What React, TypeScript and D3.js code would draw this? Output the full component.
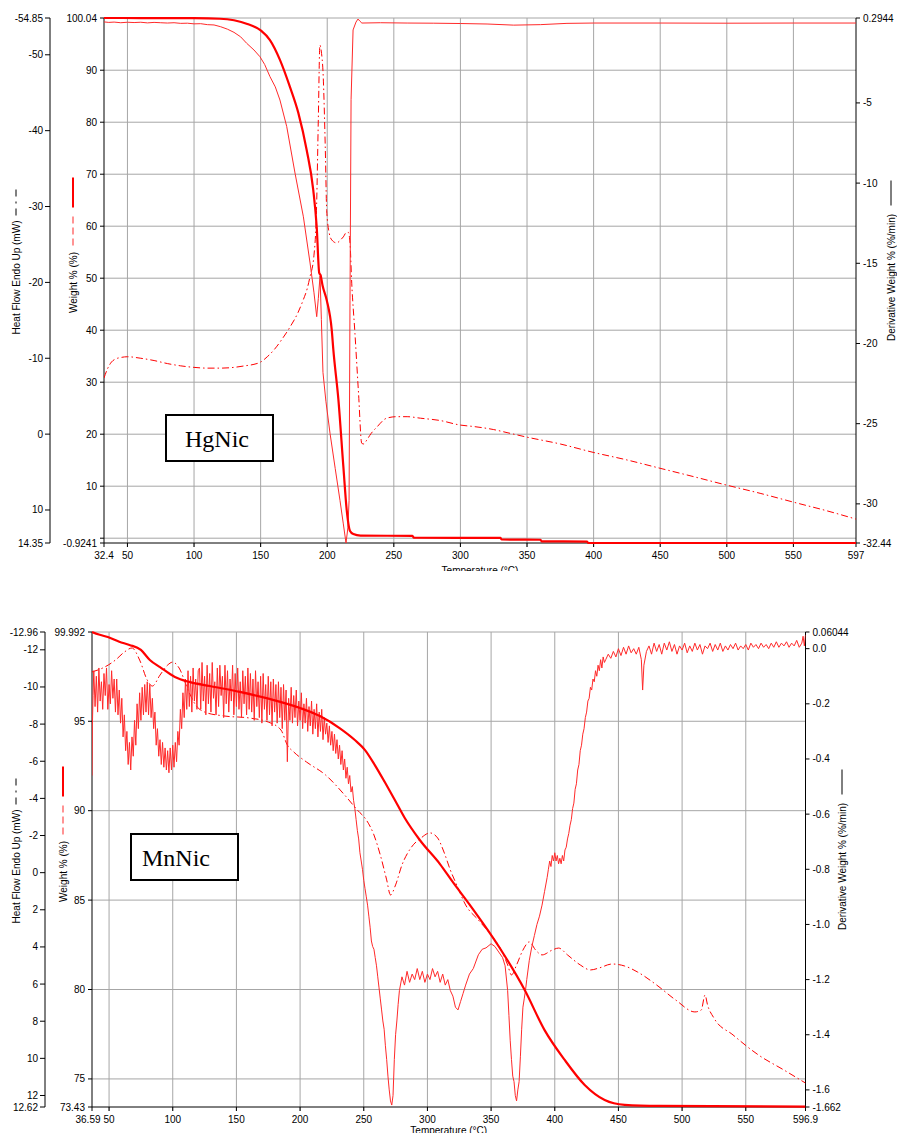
import React from 'react';
import * as d3 from 'd3';

type Pt = [number, number];

// ================= HgNic (top chart) =================
const hgTempTicks = [32.4, 50, 100, 150, 200, 250, 300, 350, 400, 450, 500, 550, 597];
const hgTempLabels = ['32.4', '50', '100', '150', '200', '250', '300', '350', '400', '450', '500', '550', '597'];
const hgHeatTicks = [-54.85, -50, -40, -30, -20, -10, 0, 10, 14.35];
const hgHeatLabels = ['-54.85', '-50', '-40', '-30', '-20', '-10', '0', '10', '14.35'];
const hgWeightTicks = [100.04, 90, 80, 70, 60, 50, 40, 30, 20, 10, 0, -0.9241];
const hgWeightLabels = ['100.04', '90', '80', '70', '60', '50', '40', '30', '20', '10', '', '-0.9241'];
const hgDerivTicks = [0.2944, -5, -10, -15, -20, -25, -30, -32.44];
const hgDerivLabels = ['0.2944', '-5', '-10', '-15', '-20', '-25', '-30', '-32.44'];

const hgWeight: Pt[] = [
  [32.4, 100.04], [60, 100.03], [100, 100.0], [119.5, 99.9], [130, 99.6], [140, 98.9], [150.3, 97.6],
  [157, 95.8], [164.5, 92.0], [172, 86.8], [178.3, 81.8], [184.6, 74.6], [189.5, 67.0], [192.1, 59.9],
  [194, 51.0], [195, 50.6], [196.5, 48.6], [199.6, 45.8], [203.4, 40.0], [204.6, 36.2], [208.4, 26.6],
  [212.1, 13.8], [214.6, 5.5], [217.1, 1.4], [219.6, 0.8], [225, 0.5], [264, 0.45], [265, 0.1],
  [330, 0.05], [331, -0.25], [360, -0.3], [361, -0.6], [395, -0.65], [396, -0.92], [597, -0.92],
];

const hgHeat: Pt[] = [
  [32.4, -7.4], [35, -8.6], [38, -9.5], [41, -9.9], [45, -10.1], [50, -10.2], [60, -10.0], [70, -9.7],
  [80, -9.3], [90, -9.0], [100, -8.8], [110, -8.7], [120, -8.7], [130, -8.8], [138, -9.0], [145, -9.2],
  [150, -9.5], [155, -10.2], [160, -11.1], [166, -12.5], [172, -14.1], [178, -16.0], [182, -17.7],
  [185, -19.2], [187, -20.7], [190, -23.5], [192, -30], [193.3, -41.4], [194.5, -51.3], [195.5, -50.5],
  [197, -47.1], [198.5, -38], [199.6, -29.5], [201.5, -26.5], [203.4, -25.6], [207.1, -25.2], [210, -25.6],
  [212.1, -26.0], [214.5, -26.6], [215.8, -26.6], [217.1, -25.2], [218.4, -19.9], [220.8, -13.3],
  [223.5, -5.4], [225.9, 1.2], [227.5, 1.3], [229.6, 0.8], [233, -0.1], [237.1, -0.9], [244.6, -2.1],
  [252.1, -2.3], [260, -2.3], [270, -2.1], [284.6, -1.8], [299.7, -1.2], [310, -1.0], [325, -0.6],
  [335, -0.2], [350, 0.4], [375, 1.3], [399.6, 2.4], [425, 3.4], [449.9, 4.5], [475, 5.6], [499.4, 6.7],
  [525, 7.8], [549.7, 8.95], [575, 10.1], [597, 11.2],
];

const hgDeriv: Pt[] = [
  [32.4, 0.05], [36, 0.02], [40, 0.04], [45, 0.0], [50, 0.03], [55, 0.01], [60, 0.03], [65, -0.01],
  [70, 0.02], [75, 0.0], [80, -0.02], [85, 0.0], [90, -0.04], [95, -0.03], [100, -0.07], [105, -0.06],
  [110, -0.12], [115, -0.14], [120, -0.25], [125, -0.40], [130, -0.60], [135, -0.88], [139.5, -1.28],
  [145, -1.7], [149.5, -2.12], [153, -2.6], [157, -3.36], [161, -4.0], [164.5, -4.82], [169.6, -6.48],
  [175.8, -9.37], [182.1, -12.1], [187.1, -14.98], [190, -16.8], [192.1, -18.33], [193.3, -17.2],
  [194.6, -15.8], [195.6, -18.5], [196.8, -21.8], [199, -23.6], [202.1, -25.6], [206, -27.8],
  [209.6, -29.8], [212, -31.2], [214.1, -32.44], [215.5, -31.5], [216.4, -29.8], [217.1, -17.3],
  [217.9, -4.8], [219.4, -0.45], [221.6, 0.04], [223.1, 0.23], [224.5, 0.1], [226, -0.02], [240, 0.0],
  [260, -0.02], [280, -0.03], [300, -0.05], [320, -0.08], [340, -0.15], [360, -0.12], [380, -0.04],
  [400, -0.02], [450, -0.02], [500, -0.03], [550, -0.02], [597, -0.02],
];

// ================= MnNic (bottom chart) =================
const mnTempTicks = [36.59, 50, 100, 150, 200, 250, 300, 350, 400, 450, 500, 550, 596.9];
const mnTempLabels = ['36.59', '50', '100', '150', '200', '250', '300', '350', '400', '450', '500', '550', '596.9'];
const mnHeatTicks = [-12.96, -12, -10, -8, -6, -4, -2, 0, 2, 4, 6, 8, 10, 12, 12.62];
const mnHeatLabels = ['-12.96', '-12', '-10', '-8', '-6', '-4', '-2', '0', '2', '4', '6', '8', '10', '12', '12.62'];
const mnWeightTicks = [99.992, 95, 90, 85, 80, 75, 73.43];
const mnWeightLabels = ['99.992', '95', '90', '85', '80', '75', '73.43'];
const mnDerivTicks = [0.06044, 0, -0.2, -0.4, -0.6, -0.8, -1.0, -1.2, -1.4, -1.6, -1.662];
const mnDerivLabels = ['0.06044', '0.0', '-0.2', '-0.4', '-0.6', '-0.8', '-1.0', '-1.2', '-1.4', '-1.6', '-1.662'];

const mnWeight: Pt[] = [
  [36.59, 99.99], [42, 99.85], [49, 99.71], [58, 99.45], [66, 99.27], [75, 98.99], [82, 98.43],
  [90, 98.03], [101.7, 97.48], [113, 97.2], [129, 96.97], [152.7, 96.64], [176, 96.25], [200, 95.74],
  [215.5, 95.29], [231, 94.62], [243, 93.95], [251, 93.39], [258.7, 92.55], [266.5, 91.6], [274.4, 90.6],
  [282.2, 89.59], [294, 88.36], [310, 87.0], [320, 86.0], [333.3, 84.73], [356.8, 82.32], [376.4, 79.97],
  [392, 77.73], [407.8, 76.06], [423.5, 74.66], [439.2, 73.82], [454.9, 73.55], [482, 73.49], [596.9, 73.45],
];

const mnHeat: Pt[] = [
  [36.59, -10.81], [45, -11.02], [55, -11.45], [62, -11.88], [68, -12.10], [74, -11.45], [80, -10.37],
  [84, -10.05], [90, -10.64], [96, -11.18], [100, -11.34], [105, -11.02], [112, -9.84], [118, -9.03],
  [125, -8.65], [140, -8.44], [160, -8.33], [175, -8.11], [185, -7.68], [190, -6.87], [195, -6.50],
  [205, -5.96], [220, -5.26], [235, -4.18], [245, -3.37], [252, -2.84], [258, -2.03], [263, -0.95],
  [268, 0.39], [271, 1.20], [275, 0.66], [280, -0.41], [287, -1.33], [295, -1.87], [302, -2.14],
  [308, -1.87], [313, -1.11], [318, -0.14], [323, 0.66], [330, 1.74], [340, 2.55], [350, 3.36],
  [358, 4.17], [363, 4.97], [366, 5.51], [370, 4.97], [375, 4.17], [380, 3.73], [385, 4.17], [390, 4.43],
  [398, 4.17], [403, 4.06], [410, 4.43], [420, 4.97], [428, 5.24], [435, 5.13], [445, 4.92], [455, 5.03],
  [465, 5.35], [480, 6.05], [495, 6.86], [510, 7.50], [515, 7.40], [518, 6.59], [520, 7.13], [525, 7.83],
  [540, 8.74], [560, 9.82], [580, 10.63], [596.9, 11.33],
];

// derivative: start, then 1 °C samples of the noisy low-temperature region, then the rest
const mnDerivHead: Pt[] = [[36.59, -0.46], [36.9, -0.28], [37.4, -0.17]];
const mnDerivNoiseStartT = 38;
const mnDerivNoise = [
  -0.08, -0.21, -0.10, -0.23, -0.07, -0.19, -0.12, -0.22, -0.09, -0.17, -0.07, -0.22, -0.13, -0.20, -0.08, -0.18, -0.11, -0.23,
  -0.11, -0.24, -0.15, -0.27, -0.18, -0.32, -0.24, -0.37, -0.30, -0.42, -0.34, -0.44,
  -0.32, -0.39, -0.26, -0.35, -0.20, -0.29, -0.16, -0.26, -0.14, -0.24, -0.13, -0.23, -0.12, -0.24, -0.13,
  -0.25, -0.18, -0.29, -0.23, -0.35, -0.29, -0.39, -0.33, -0.42, -0.34, -0.43, -0.36, -0.44, -0.37, -0.45, -0.36, -0.44, -0.35, -0.43, -0.34, -0.41, -0.30, -0.35,
  -0.22, -0.29, -0.16, -0.25, -0.11, -0.22, -0.08, -0.21, -0.10, -0.23, -0.07, -0.19, -0.11, -0.22, -0.08,
  -0.07, -0.22, -0.05, -0.19, -0.10, -0.24, -0.06, -0.20, -0.09, -0.23, -0.05, -0.18, -0.12, -0.24, -0.07, -0.21, -0.06, -0.17, -0.10, -0.25,
  -0.06, -0.20, -0.08, -0.23, -0.11, -0.19, -0.06, -0.24, -0.09, -0.21, -0.07, -0.22, -0.12, -0.25, -0.08, -0.20, -0.10, -0.24, -0.07, -0.22,
  -0.09, -0.23, -0.11, -0.26, -0.08, -0.21, -0.12, -0.25, -0.10, -0.27, -0.09, -0.22, -0.13, -0.26, -0.10, -0.24, -0.12, -0.28, -0.11, -0.23,
  -0.13, -0.27, -0.12, -0.25, -0.14, -0.29, -0.13, -0.26, -0.15, -0.41,
  -0.18, -0.26, -0.14, -0.27, -0.17, -0.25, -0.15, -0.28, -0.19, -0.26, -0.16, -0.29, -0.20, -0.27, -0.18, -0.30, -0.21, -0.28, -0.19, -0.31, -0.22, -0.29, -0.20, -0.32, -0.23, -0.30, -0.22, -0.33, -0.25, -0.31,
  -0.27, -0.34, -0.28, -0.35, -0.30, -0.37, -0.31, -0.38, -0.33, -0.40, -0.35, -0.42, -0.37, -0.44, -0.40, -0.47, -0.43, -0.49, -0.46, -0.52, -0.50, -0.55,
];
const mnDerivTail: Pt[] = [
  [243, -0.58], [244, -0.62], [245, -0.66], [246, -0.69], [247, -0.74], [248, -0.77], [249, -0.80], [250, -0.84],
  [251, -0.87], [252, -0.90], [253, -0.93], [254, -0.97], [255, -1.01], [256, -1.06], [257, -1.08], [258, -1.09],
  [259, -1.12], [260, -1.15], [261, -1.19], [262, -1.23], [263, -1.27], [264, -1.31], [265, -1.35], [266, -1.38],
  [267, -1.44], [268, -1.49], [269, -1.55], [270, -1.60], [271, -1.64], [272, -1.655], [273, -1.62], [274, -1.49],
  [275, -1.40], [276, -1.35], [277, -1.29], [278, -1.24], [280, -1.19], [282, -1.22], [284, -1.17], [286, -1.21],
  [288, -1.18], [290, -1.20], [292, -1.16], [294, -1.20], [296, -1.17], [298, -1.21], [300, -1.18], [302, -1.20],
  [304, -1.16], [306, -1.19], [308, -1.17], [310, -1.21], [312, -1.18], [314, -1.22], [316, -1.20], [318, -1.24],
  [320, -1.26], [322, -1.30], [324, -1.31], [326, -1.28], [328, -1.25], [330, -1.22], [333, -1.18], [336, -1.16],
  [340, -1.11], [343, -1.09], [346, -1.085], [350, -1.07], [353, -1.08], [356, -1.10], [359, -1.12], [361, -1.15],
  [363, -1.24], [364, -1.33], [365, -1.42], [366, -1.49], [367, -1.55], [368, -1.57], [369, -1.62], [370, -1.64],
  [371, -1.60], [372, -1.57], [373, -1.48], [374, -1.38], [375, -1.30], [376, -1.27], [377, -1.24], [378, -1.20],
  [380, -1.13], [382, -1.08], [384, -1.04], [386, -1.00], [388, -0.97], [390, -0.93], [392, -0.88], [394, -0.83],
  [395, -0.80], [396, -0.77], [397, -0.79], [398, -0.75], [399, -0.77], [400, -0.74], [401, -0.77], [402, -0.75],
  [403, -0.78], [404, -0.76], [405, -0.78], [406, -0.75], [407, -0.77], [408, -0.73], [409, -0.72], [410, -0.69],
  [411, -0.67], [412, -0.64], [413, -0.62], [414, -0.58], [415, -0.56], [416, -0.51], [417, -0.49], [418, -0.44],
  [419, -0.42], [420, -0.37], [421, -0.35], [422, -0.31], [423, -0.29], [424, -0.25], [425, -0.23], [426, -0.19],
  [427, -0.18], [428, -0.14], [429, -0.15], [430, -0.11], [431, -0.12], [432, -0.08], [433, -0.10], [434, -0.06],
  [435, -0.08], [436, -0.04], [437, -0.07], [438, -0.03], [439, -0.05],
  [440, -0.04], [442, -0.02], [444, -0.035], [446, -0.01], [448, -0.03], [450, 0.0], [452, -0.025], [454, 0.005],
  [456, -0.02], [458, 0.01], [460, -0.015], [462, 0.0], [464, -0.02], [466, 0.005], [468, -0.04], [469, -0.15],
  [470, -0.06], [472, -0.01], [474, 0.01], [476, -0.02], [478, 0.02], [480, -0.01], [482, 0.015], [484, -0.02],
  [486, 0.02], [488, -0.005], [490, 0.025], [492, -0.01], [494, 0.015], [496, -0.02], [498, 0.01], [500, -0.005],
  [502, 0.02], [504, -0.015], [506, 0.01], [508, -0.01], [510, 0.02], [512, -0.005], [514, 0.015], [516, -0.02],
  [518, 0.01], [520, 0.0], [522, 0.02], [524, -0.01], [526, 0.015], [528, -0.005], [530, 0.02], [532, -0.01],
  [534, 0.01], [536, -0.005], [538, 0.015], [540, 0.0], [542, 0.02], [544, -0.005], [546, 0.01], [548, 0.0],
  [550, 0.015], [552, -0.005], [554, 0.02], [556, 0.005], [558, 0.015], [560, 0.0], [562, 0.02], [564, 0.005],
  [566, 0.015], [568, 0.0], [570, 0.02], [572, 0.005], [574, 0.025], [576, 0.005], [578, 0.02], [580, 0.01],
  [582, 0.025], [584, 0.005], [586, 0.02], [588, 0.01], [590, 0.03], [592, 0.005], [594, 0.02], [595, 0.045],
  [596, 0.01], [596.9, 0.05],
];
const mnDeriv: Pt[] = [
  ...mnDerivHead,
  ...mnDerivNoise.map((v, i) => [mnDerivNoiseStartT + i, v] as Pt),
  ...mnDerivTail,
];

// ================= layout / drawing =================
const FONT = "'Liberation Sans', Arial, sans-serif";
const SERIF = "'Liberation Serif', 'Times New Roman', serif";
const RED = '#ff0000';

interface Layout {
  left: number; right: number; top: number; bottom: number;
  heatAxisX: number; heatLabelX: number; weightLabelX: number; derivLabelX: number;
  tempLabelY: number; clipBottom: number; firstLabelShift: number;
  box: { x: number; y: number; w: number; h: number; tx: number; ty: number };
}
interface ChartData {
  id: string; name: string;
  tempDomain: Pt; heatDomain: Pt; weightDomain: Pt; derivDomain: Pt;
  tempTicks: number[]; tempLabels: string[];
  heatTicks: number[]; heatLabels: string[];
  weightTicks: number[]; weightLabels: string[];
  derivTicks: number[]; derivLabels: string[];
  weight: Pt[]; heat: Pt[]; deriv: Pt[];
}

function Chart({ L, D }: { L: Layout; D: ChartData }) {
  const x = d3.scaleLinear().domain(D.tempDomain).range([L.left, L.right]);
  const yH = d3.scaleLinear().domain(D.heatDomain).range([L.top, L.bottom]);
  const yW = d3.scaleLinear().domain(D.weightDomain).range([L.top, L.bottom]);
  const yD = d3.scaleLinear().domain(D.derivDomain).range([L.top, L.bottom]);
  const lW = d3.line<Pt>().x(d => x(d[0])).y(d => yW(d[1])).curve(d3.curveMonotoneX);
  const lH = d3.line<Pt>().x(d => x(d[0])).y(d => yH(d[1])).curve(d3.curveMonotoneX);
  const lD = d3.line<Pt>().x(d => x(d[0])).y(d => yD(d[1]));
  const cy = (L.top + L.bottom) / 2;
  const grid = '#a6a6a6';
  const inner = (a: number[]) => a.slice(1, a.length - 1);
  const clip = `clip-${D.id}`;
  const clipAll = `clipall-${D.id}`;
  return (
    <g clipPath={`url(#${clipAll})`}>
      <defs>
        <clipPath id={clip}>
          <rect x={L.left} y={L.top - 3} width={L.right - L.left} height={L.bottom - L.top + 4} />
        </clipPath>
        <clipPath id={clipAll}>
          <rect x={0} y={L.top - 30} width={897} height={L.clipBottom - (L.top - 30)} />
        </clipPath>
      </defs>
      {/* grid */}
      {inner(D.tempTicks).map((t, i) => (
        <line key={'vg' + i} x1={x(t)} x2={x(t)} y1={L.top} y2={L.bottom + 4} stroke={grid} strokeWidth={1} />
      ))}
      {inner(D.weightTicks).map((t, i) => (
        <line key={'hg' + i} x1={L.left} x2={L.right} y1={yW(t)} y2={yW(t)} stroke={grid} strokeWidth={1} />
      ))}
      <line x1={L.left} x2={L.right} y1={L.top} y2={L.top} stroke={grid} strokeWidth={1} />
      {/* x axis */}
      <line x1={L.left} x2={L.right} y1={L.bottom} y2={L.bottom} stroke="#000" strokeWidth={1} />
      {D.tempTicks.map((t, i) => (
        <g key={'xt' + i}>
          <line x1={x(t)} x2={x(t)} y1={L.bottom} y2={L.bottom + 4} stroke="#000" />
          <text x={x(t) + (i === 0 ? L.firstLabelShift : 0)} y={L.bottom + 16} textAnchor="middle" fontFamily={FONT} fontSize={10}>{D.tempLabels[i]}</text>
        </g>
      ))}
      <text x={(L.left + L.right) / 2} y={L.tempLabelY} textAnchor="middle" fontFamily={FONT} fontSize={10}>Temperature (°C)</text>
      {/* heat flow axis */}
      <line x1={L.heatAxisX} x2={L.heatAxisX} y1={L.top} y2={L.bottom} stroke="#000" />
      {D.heatTicks.map((t, i) => (
        <g key={'ht' + i}>
          <line x1={L.heatAxisX - 5} x2={L.heatAxisX} y1={yH(t)} y2={yH(t)} stroke="#000" />
          <text x={L.heatAxisX - 7} y={yH(t)} dy="0.35em" textAnchor="end" fontFamily={FONT} fontSize={10}>{D.heatLabels[i]}</text>
        </g>
      ))}
      {/* weight axis */}
      <line x1={L.left} x2={L.left} y1={L.top} y2={L.bottom} stroke="#000" />
      {D.weightTicks.map((t, i) => (
        <g key={'wt' + i}>
          <line x1={L.left - 4} x2={L.left} y1={yW(t)} y2={yW(t)} stroke="#000" />
          <text x={L.left - 7} y={yW(t)} dy="0.35em" textAnchor="end" fontFamily={FONT} fontSize={10}>{D.weightLabels[i]}</text>
        </g>
      ))}
      {/* derivative axis */}
      <line x1={L.right} x2={L.right} y1={L.top} y2={L.bottom} stroke="#000" />
      {D.derivTicks.map((t, i) => (
        <g key={'dt' + i}>
          <line x1={L.right} x2={L.right + 4} y1={yD(t)} y2={yD(t)} stroke="#000" />
          <text x={L.right + 7} y={yD(t)} dy="0.35em" textAnchor="start" fontFamily={FONT} fontSize={10}>{D.derivLabels[i]}</text>
        </g>
      ))}
      {/* axis titles */}
      <text transform={`translate(${L.heatLabelX},${cy - 3}) rotate(-90)`} textAnchor="middle" dy="0.35em" fontFamily={FONT} fontSize={10}>Heat Flow Endo Up (mW)</text>
      <line x1={L.heatLabelX} x2={L.heatLabelX} y1={cy - 91} y2={cy - 84} stroke="#000" />
      <line x1={L.heatLabelX} x2={L.heatLabelX} y1={cy - 79} y2={cy - 77} stroke="#000" />
      <line x1={L.heatLabelX} x2={L.heatLabelX} y1={cy - 72} y2={cy - 65} stroke="#000" />
      <text transform={`translate(${L.weightLabelX},${cy + 2}) rotate(-90)`} textAnchor="middle" dy="0.35em" fontFamily={FONT} fontSize={10}>Weight % (%)</text>
      <line x1={L.weightLabelX} x2={L.weightLabelX} y1={cy - 103} y2={cy - 73} stroke={RED} strokeWidth={2} />
      <line x1={L.weightLabelX} x2={L.weightLabelX} y1={cy - 64} y2={cy - 34} stroke="#ff7070" strokeWidth={1.5} strokeDasharray="7,4" />
      <text transform={`translate(${L.derivLabelX},${cy - 3}) rotate(-90)`} textAnchor="middle" dy="0.35em" fontFamily={FONT} fontSize={10}>Derivative Weight % (%/min)</text>
      <line x1={L.derivLabelX} x2={L.derivLabelX} y1={cy - 100} y2={cy - 75} stroke="#000" />
      {/* curves */}
      <g clipPath={`url(#${clip})`}>
        <path d={lH(D.heat) || ''} fill="none" stroke={RED} strokeWidth={1} strokeDasharray="7,3,1.5,3" />
        <path d={lD(D.deriv) || ''} fill="none" stroke="#ff2a2a" strokeWidth={1} />
        <path d={lW(D.weight) || ''} fill="none" stroke={RED} strokeWidth={2.2} />
      </g>
      {/* sample label */}
      <rect x={L.box.x} y={L.box.y} width={L.box.w} height={L.box.h} fill="#fff" stroke="#000" strokeWidth={2} />
      <text x={L.box.tx} y={L.box.ty} fontFamily={SERIF} fontSize={24}>{D.name}</text>
    </g>
  );
}

const hgLayout: Layout = {
  left: 104, right: 856, top: 18, bottom: 543,
  heatAxisX: 50, heatLabelX: 16, weightLabelX: 73, derivLabelX: 891,
  tempLabelY: 574, clipBottom: 571, firstLabelShift: 0,
  box: { x: 166, y: 415, w: 107, h: 46, tx: 185, ty: 447 },
};
const mnLayout: Layout = {
  left: 92, right: 805.5, top: 632, bottom: 1107,
  heatAxisX: 45, heatLabelX: 16, weightLabelX: 63, derivLabelX: 842,
  tempLabelY: 1134, clipBottom: 1133, firstLabelShift: -4,
  box: { x: 131, y: 834, w: 107, h: 46, tx: 142, ty: 866 },
};

const hgData: ChartData = {
  id: 'hg', name: 'HgNic',
  tempDomain: [32.4, 597], heatDomain: [-54.85, 14.35], weightDomain: [100.04, -0.9241], derivDomain: [0.2944, -32.44],
  tempTicks: hgTempTicks, tempLabels: hgTempLabels, heatTicks: hgHeatTicks, heatLabels: hgHeatLabels,
  weightTicks: hgWeightTicks, weightLabels: hgWeightLabels, derivTicks: hgDerivTicks, derivLabels: hgDerivLabels,
  weight: hgWeight, heat: hgHeat, deriv: hgDeriv,
};
const mnData: ChartData = {
  id: 'mn', name: 'MnNic',
  tempDomain: [36.59, 596.9], heatDomain: [-12.96, 12.62], weightDomain: [99.992, 73.43], derivDomain: [0.06044, -1.662],
  tempTicks: mnTempTicks, tempLabels: mnTempLabels, heatTicks: mnHeatTicks, heatLabels: mnHeatLabels,
  weightTicks: mnWeightTicks, weightLabels: mnWeightLabels, derivTicks: mnDerivTicks, derivLabels: mnDerivLabels,
  weight: mnWeight, heat: mnHeat, deriv: mnDeriv,
};

export default function App() {
  return (
    <svg width={897} height={1133} style={{ position: 'absolute', left: 0, top: 0, background: '#fff' }}>
      <rect x={0} y={0} width={897} height={1133} fill="#fff" />
      <Chart L={hgLayout} D={hgData} />
      <Chart L={mnLayout} D={mnData} />
    </svg>
  );
}
